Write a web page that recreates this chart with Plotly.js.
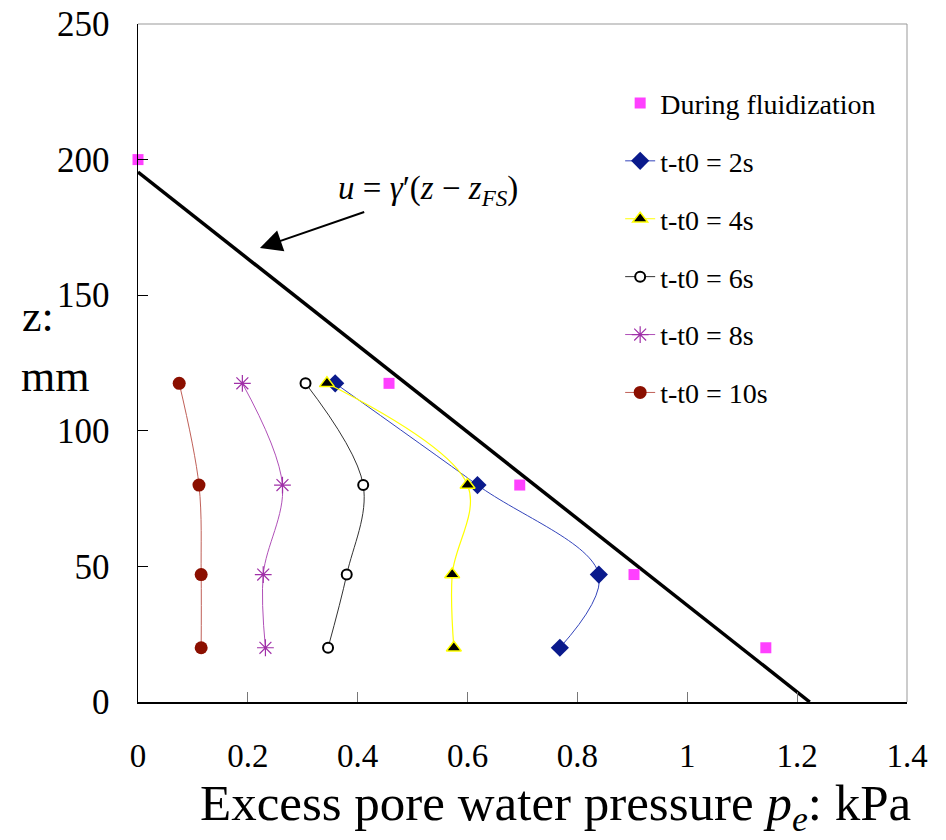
<!DOCTYPE html>
<html>
<head>
<meta charset="utf-8">
<script src="https://cdn.plot.ly/plotly-3.0.1.min.js"></script>
<style>html,body{margin:0;padding:0;background:#fff}#chart{width:946px;height:840px}</style>
</head>
<body>
<div id="chart"></div>
<script>
// Depth levels (mm)
var zLevels = [117.5, 80, 47, 20];
// During fluidization
var fluidX = [0, 0.457, 0.695, 0.903, 1.143];
var fluidZ = [200, 117.5, 80, 47, 20];
// Time series (kPa)
var p2s  = [0.359, 0.618, 0.839, 0.768];
var p4s  = [0.344, 0.600, 0.572, 0.575];
var p6s  = [0.305, 0.410, 0.380, 0.346];
var p8s  = [0.190, 0.263, 0.228, 0.232];
var p10s = [0.075, 0.111, 0.115, 0.115];
// Hydrostatic line u = gamma'(z - zFS)
var lineX = [0, 1.223];
var lineZ = [195.4, 0];
var xTicks = [0, 0.2, 0.4, 0.6, 0.8, 1, 1.2, 1.4];
var yTicks = [0, 50, 100, 150, 200, 250];

var F = "Liberation Serif, Times New Roman, serif";

var traces = [
  {x: lineX, y: lineZ, mode: 'lines', line: {color: '#000', width: 3.5}, showlegend: false, hoverinfo: 'skip'},
  {x: fluidX, y: fluidZ, mode: 'markers', name: 'During fluidization', legendgroup: 'a',
   marker: {symbol: 'square', size: 11, color: '#ff40ff'}, cliponaxis: false},
  {x: p2s, y: zLevels, mode: 'lines+markers', name: 't-t0 = 2s', legendgroup: 'b',
   line: {color: '#3344bb', width: 1, shape: 'spline', smoothing: 1},
   marker: {symbol: 'diamond', size: 14, color: '#0a1a8c'}},
  {x: p4s, y: zLevels, mode: 'lines+markers', name: 't-t0 = 4s', legendgroup: 'c',
   line: {color: '#ffff00', width: 1.2, shape: 'spline', smoothing: 1},
   marker: {symbol: 'triangle-up', size: 13, color: '#000', line: {color: '#ffff00', width: 1.5}}},
  {x: p6s, y: zLevels, mode: 'lines+markers', name: 't-t0 = 6s', legendgroup: 'd',
   line: {color: '#333', width: 1, shape: 'spline', smoothing: 1},
   marker: {symbol: 'circle', size: 10, color: '#fff', line: {color: '#000', width: 2}}},
  {x: p8s, y: zLevels, mode: 'lines+markers', name: 't-t0 = 8s', legendgroup: 'e',
   line: {color: '#b050b8', width: 1, shape: 'spline', smoothing: 1},
   marker: {symbol: 'asterisk-open', size: 14, color: '#a030a8', line: {color: '#a030a8', width: 1.2}}},
  {x: p10s, y: zLevels, mode: 'lines+markers', name: 't-t0 = 10s', legendgroup: 'f',
   line: {color: '#c06058', width: 1, shape: 'spline', smoothing: 1},
   marker: {symbol: 'circle', size: 13, color: '#8b0f00'}}
];

var layout = {
  width: 946, height: 840,
  margin: {l: 138, r: 39, t: 24, b: 138},
  paper_bgcolor: '#fff', plot_bgcolor: '#fff',
  font: {family: F, color: '#000', size: 30},
  showlegend: true,
  legend: {x: 0.627, y: 0.92, xanchor: 'left', yanchor: 'top', bgcolor: 'rgba(0,0,0,0)',
           font: {family: F, size: 28, color: '#000'}, traceorder: 'grouped', tracegroupgap: 18.5},
  xaxis: {range: [0, 1.4], tickvals: xTicks, ticktext: xTicks.map(String), ticks: 'inside', ticklen: 10,
          tickcolor: '#777', showline: true, linecolor: '#000', linewidth: 1.5, showgrid: false, zeroline: false,
          ticklabelstandoff: 24, tickfont: {family: F, size: 33}},
  yaxis: {range: [0, 250], tickvals: yTicks, ticks: 'inside', ticklen: 10, tickcolor: '#000',
          showline: true, linecolor: '#000', linewidth: 1.5, showgrid: false, zeroline: false,
          ticklabelstandoff: 20, tickfont: {family: F, size: 35}},
  shapes: [
    {type: 'line', xref: 'paper', yref: 'paper', x0: 0, x1: 1, y0: 1, y1: 1, line: {color: '#999', width: 1}},
    {type: 'line', xref: 'paper', yref: 'paper', x0: 1, x1: 1, y0: 0, y1: 1, line: {color: '#999', width: 1}}
  ],
  annotations: [
    {x: 0.222, y: 167.4, xref: 'x', yref: 'y', ax: 168, ay: -58, showarrow: true,
     arrowhead: 2, arrowsize: 2.2, arrowwidth: 2, arrowcolor: '#000',
     text: '<i>u</i> = <i>γ</i>′(<i>z</i> − <i>z</i><sub><i>FS</i></sub>)',
     font: {family: F, size: 33, color: '#000'}},
    {x: 0.5, xref: 'paper', y: 0, yref: 'paper', xanchor: 'center', yanchor: 'middle', showarrow: false,
     text: 'Excess pore water pressure <i>p</i><sub><i>e</i></sub>: kPa', font: {family: F, size: 51, color: '#000'}},
    {xref: 'paper', yref: 'paper', x: 0, y: 0, xanchor: 'center', yanchor: 'middle', showarrow: false, text: 'z:', font: {family: F, size: 44}},
    {xref: 'paper', yref: 'paper', x: 0, y: 0, xanchor: 'center', yanchor: 'middle', showarrow: false, text: 'mm', font: {family: F, size: 44}}
  ]
};
// Position paper-referenced text annotations from pixel targets
function px2paperX(px){ return (px - 138) / (946 - 138 - 39); }
function px2paperY(py){ return (840 - 138 - py) / (840 - 24 - 138); }
layout.annotations[1].x = px2paperX(555); layout.annotations[1].y = px2paperY(807);
layout.annotations[2].x = px2paperX(38);  layout.annotations[2].y = px2paperY(316);
layout.annotations[3].x = px2paperX(55);  layout.annotations[3].y = px2paperY(376);

Plotly.newPlot('chart', traces, layout, {displayModeBar: false, staticPlot: true});
</script>
</body>
</html>
